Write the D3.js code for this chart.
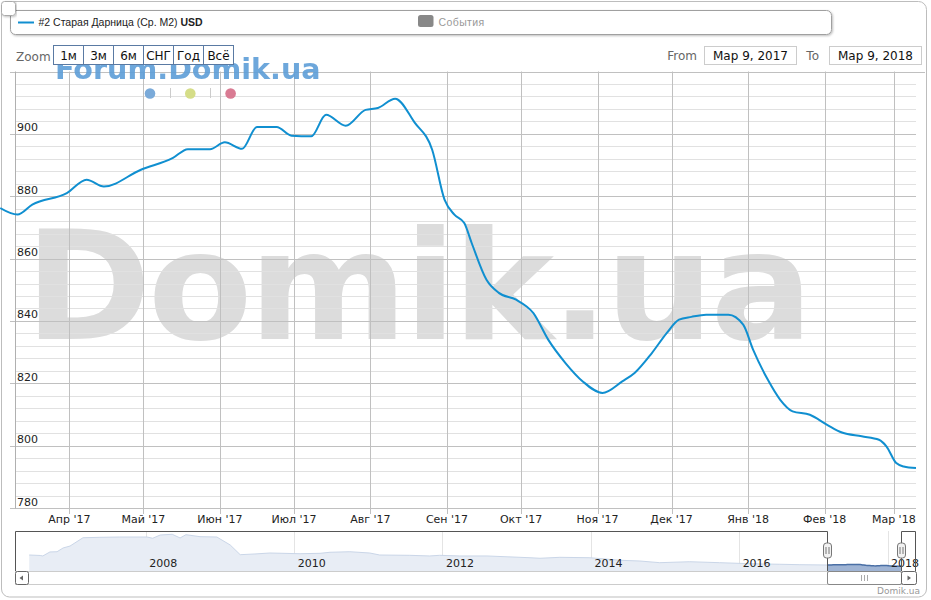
<!DOCTYPE html>
<html><head><meta charset="utf-8">
<script src="https://cdn.jsdelivr.net/npm/d3@7"></script>
<style>body{margin:0;background:#fff}svg{display:block}</style>
</head><body>
<svg id="c" width="931" height="600"></svg>
<script>
// ---------- DATA ----------
const seriesName = "#2 Старая Дарница (Ср. М2)";
const seriesUnit = "USD";
const eventsLabel = "События";
const dates = ["2017-03-04","2017-03-11","2017-03-17","2017-03-31","2017-04-08","2017-04-15","2017-04-30",
  "2017-05-13","2017-05-19","2017-05-28","2017-06-03","2017-06-10","2017-06-16","2017-06-24","2017-06-30",
  "2017-07-08","2017-07-14","2017-07-22","2017-07-30","2017-08-04","2017-08-11","2017-08-19","2017-08-26",
  "2017-08-31","2017-09-04","2017-09-08","2017-09-11","2017-09-17","2017-09-22","2017-09-29","2017-10-06",
  "2017-10-12","2017-10-19","2017-10-26","2017-11-03","2017-11-11","2017-11-16","2017-11-23","2017-11-29",
  "2017-12-04","2017-12-09","2017-12-15","2017-12-24","2017-12-30","2018-01-03","2018-01-09","2018-01-14",
  "2018-01-19","2018-01-26","2018-02-02","2018-02-08","2018-02-16","2018-02-23","2018-02-26","2018-03-02",
  "2018-03-05","2018-03-10"];
const prices = [876.2,874.1,877.3,881.0,885.3,883.1,888.5,
  892.3,895.1,895.1,897.3,895.2,902.2,902.2,899.4,
  899.2,906.1,902.6,907.7,908.3,911.3,903.5,894.9,
  878.9,874.1,871.4,865.0,853.2,849.0,846.8,842.5,
  834.0,826.5,820.6,816.9,820.6,823.3,829.7,836.1,
  840.4,841.3,842.0,842.0,838.8,830.8,821.1,814.7,
  811.0,809.9,806.7,804.2,803.0,801.9,799.8,794.4,
  793.3,792.8];
const monthTicks = ["2017-04-01","2017-05-01","2017-06-01","2017-07-01","2017-08-01","2017-09-01",
  "2017-10-01","2017-11-01","2017-12-01","2018-01-01","2018-02-01","2018-03-01"];
const monthLabels = ["Апр '17","Май '17","Июн '17","Июл '17","Авг '17","Сен '17",
  "Окт '17","Ноя '17","Дек '17","Янв '18","Фев '18","Мар '18"];
const yMajorTicks = [780,800,820,840,860,880,900,920];
const yLabelTicks = [780,800,820,840,860,880,900];
const navDates = ["2006-06-06","2006-07-30","2006-08-12","2006-09-16","2006-10-21","2006-11-20","2006-12-24",
  "2007-02-26","2007-05-20","2007-08-26","2008-01-07","2008-02-04","2008-03-12","2008-05-10","2008-06-18",
  "2008-07-17","2008-09-24","2008-12-16","2009-02-20","2009-04-10","2009-06-22","2009-09-03","2010-01-30",
  "2010-05-08","2010-06-26","2010-10-02","2011-01-08","2011-02-26","2011-07-24","2011-10-30","2011-12-18",
  "2012-03-26","2012-08-07","2013-03-07","2013-04-25","2013-08-01","2013-12-27","2014-05-24","2014-08-30",
  "2014-12-06","2015-05-03","2015-09-27","2016-02-22","2016-07-19","2016-10-26"];
const navPrices = [1500,1470,1440,1690,1705,1940,2060,
  2580,2605,2625,2625,2545,2750,2795,2565,
  2770,2645,2625,2125,1520,1565,1625,1580,
  1605,1670,1705,1625,1500,1480,1440,1480,
  1440,1440,1330,1295,1355,1330,1170,1125,
  1020,1080,1020,955,920,895];
const yearTicks = ["2008-01-01","2010-01-01","2012-01-01","2014-01-01","2016-01-01","2018-01-01"];
const yearLabels = ["2008","2010","2012","2014","2016","2018"];
const zoomButtons = ["1м","3м","6м","СНГ","Год","Всё"];
const rangeFrom = "Мар 9, 2017", rangeTo = "Мар 9, 2018";

// ---------- SETUP ----------
const P = d3.utcParse("%Y-%m-%d");
const svg = d3.select("#c");
const FONT = "'DejaVu Sans', Verdana, sans-serif";
const defs = svg.append("defs");
const f = defs.append("filter").attr("id","sh").attr("x","-5%").attr("y","-30%").attr("width","110%").attr("height","160%");
f.append("feDropShadow").attr("dx",1).attr("dy",1).attr("stdDeviation",1).attr("flood-color","#000").attr("flood-opacity",0.25);

// frame
svg.append("rect").attr("x",1.5).attr("y",1.5).attr("width",925).attr("height",595.5).attr("rx",8)
  .attr("fill","#fff").attr("stroke","#bdbdbd");

const x = d3.scaleUtc().domain([P("2017-03-10"), P("2018-03-10")]).range([15, 916]);
const y = d3.scaleLinear().domain([780, 920]).range([508, 71.5]);

// watermark
svg.append("text").attr("x",25).attr("y",339).attr("font-family",FONT).attr("font-weight","bold")
  .attr("font-size",152).attr("fill","#dcdcdc").attr("textLength",788).attr("lengthAdjust","spacing").text("Domik.ua");

// minor grid
const minor = d3.range(780, 921, 4).filter(v => v % 20 !== 0);
svg.append("g").selectAll("line").data(minor).join("line")
  .attr("x1",15).attr("x2",916).attr("y1",d=>Math.round(y(d))+0.5).attr("y2",d=>Math.round(y(d))+0.5)
  .attr("stroke","#e1e1e1");
// major grid
svg.append("g").selectAll("line").data(yMajorTicks).join("line")
  .attr("x1",10).attr("x2",d=>d===920?925:916).attr("y1",d=>Math.round(y(d))+0.5).attr("y2",d=>Math.round(y(d))+0.5)
  .attr("stroke","#c0c0c0");
// vertical month grid + ticks
svg.append("g").selectAll("line").data(monthTicks).join("line")
  .attr("x1",d=>Math.round(x(P(d)))+0.5).attr("x2",d=>Math.round(x(P(d)))+0.5)
  .attr("y1",71.5).attr("y2",514).attr("stroke","#c0c0c0");
// axes lines
svg.append("line").attr("x1",15.5).attr("x2",15.5).attr("y1",71.5).attr("y2",508.5).attr("stroke","#b0b0b0");

// y labels
svg.append("g").selectAll("text").data(yLabelTicks).join("text")
  .attr("x",17).attr("y",d=>y(d)-2.5).attr("font-family",FONT).attr("font-size",11).attr("fill","#222")
  .text(d=>d);
// x labels
svg.append("g").selectAll("text").data(monthTicks).join("text")
  .attr("x",d=>x(P(d))).attr("y",523).attr("text-anchor","middle").attr("font-family",FONT)
  .attr("font-size",11).attr("fill","#222").text((d,i)=>monthLabels[i]);

// Forum watermark + dots
svg.append("text").attr("x",55).attr("y",79).attr("font-family",FONT).attr("font-weight","bold")
  .attr("font-size",28.6).attr("fill","#5e9ed8").attr("opacity",0.9).text("Forum.Domik.ua");
const dotColors = ["#7aaad9","#d5dd88","#d97b93"];
dotColors.forEach((c,i)=>{
  svg.append("circle").attr("cx",150+i*40.3).attr("cy",93.5).attr("r",5.3).attr("fill",c);
  if(i<2) svg.append("line").attr("x1",170.5+i*40).attr("x2",170.5+i*40).attr("y1",88).attr("y2",98).attr("stroke","#ccc");
});

// main line
const line = d3.line().x((d,i)=>x(P(dates[i]))).y(d=>y(d)).curve(d3.curveMonotoneX);
svg.append("path").datum(prices).attr("d",line).attr("fill","none").attr("stroke","#108fd0")
  .attr("stroke-width",2).attr("stroke-linejoin","round");

// zoom controls
svg.append("text").attr("x",16).attr("y",61).attr("font-family",FONT).attr("font-size",12).attr("fill","#666").text("Zoom");
const bw = 30;
zoomButtons.forEach((b,i)=>{
  svg.append("rect").attr("x",53.5+i*bw).attr("y",45.5).attr("width",bw).attr("height",19)
    .attr("fill","#fff").attr("stroke","#5a7aa3");
  svg.append("text").attr("x",53.5+i*bw+bw/2).attr("y",60).attr("text-anchor","middle")
    .attr("font-family",FONT).attr("font-size",12).attr("fill","#111").text(b);
});
// From / To
svg.append("text").attr("x",697).attr("y",60).attr("text-anchor","end").attr("font-family",FONT).attr("font-size",12).attr("fill","#666").text("From");
svg.append("rect").attr("x",704.5).attr("y",46.5).attr("width",92).attr("height",18).attr("fill","#fff").attr("stroke","#ccc");
svg.append("text").attr("x",750.5).attr("y",60).attr("text-anchor","middle").attr("font-family",FONT).attr("font-size",12).attr("fill","#111").text(rangeFrom);
svg.append("text").attr("x",819).attr("y",60).attr("text-anchor","end").attr("font-family",FONT).attr("font-size",12).attr("fill","#666").text("To");
svg.append("rect").attr("x",829.5).attr("y",46.5).attr("width",92).attr("height",18).attr("fill","#fff").attr("stroke","#ccc");
svg.append("text").attr("x",875.5).attr("y",60).attr("text-anchor","middle").attr("font-family",FONT).attr("font-size",12).attr("fill","#111").text(rangeTo);

// legend
svg.append("rect").attr("x",10.5).attr("y",10.5).attr("width",821).attr("height",24).attr("rx",5)
  .attr("fill","#fff").attr("stroke","#a0a0a0").attr("filter","url(#sh)");
svg.append("line").attr("x1",18).attr("x2",34).attr("y1",22.5).attr("y2",22.5).attr("stroke","#108fd0").attr("stroke-width",2);
const lt = svg.append("text").attr("x",38.5).attr("y",26).attr("font-family","'Liberation Sans', Arial, sans-serif").attr("font-size",10.5).attr("fill","#222");
lt.append("tspan").text(seriesName+" ");
lt.append("tspan").attr("font-weight","bold").text(seriesUnit);
svg.append("rect").attr("x",418).attr("y",15).attr("width",15.5).attr("height",12).attr("rx",2.5).attr("fill","#888");
svg.append("text").attr("x",438.5).attr("y",26).attr("font-family","'Liberation Sans', Arial, sans-serif").attr("font-size",10.5).attr("fill","#999").attr("letter-spacing",0.4).text(eventsLabel);

// top-left small box
svg.append("rect").attr("x",1.5).attr("y",1.5).attr("width",14).attr("height",14).attr("rx",3)
  .attr("fill","#fff").attr("stroke","#aaa").attr("filter","url(#sh)");

// ---------- NAVIGATOR ----------
const nx = d3.scaleUtc().domain([P("2006-03-28"), P("2018-05-21")]).range([15, 916]);
const ny = d3.scaleLinear().domain([500, 3000]).range([571, 531]);
const navAll = navDates.map((d,i)=>({d:P(d), v:navPrices[i]}))
  .concat(dates.slice(1).map((d,i)=>({d:P(d), v:prices[i+1]})));
// year grid
svg.append("g").selectAll("line").data(yearTicks).join("line")
  .attr("x1",d=>Math.round(nx(P(d)))+0.5).attr("x2",d=>Math.round(nx(P(d)))+0.5)
  .attr("y1",531).attr("y2",571).attr("stroke","#e4e4e4");
const area = d3.area().x(d=>nx(d.d)).y0(571).y1(d=>ny(d.v)).curve(d3.curveLinear);
const aline = d3.line().x(d=>nx(d.d)).y(d=>ny(d.v)).curve(d3.curveLinear);
svg.append("path").datum(navAll).attr("d",area).attr("fill","#e8edf5");
svg.append("path").datum(navAll).attr("d",aline).attr("fill","none").attr("stroke","#cad6e8").attr("stroke-width",1);
const x0 = nx(x.domain()[0]), x1 = nx(x.domain()[1]);
defs.append("clipPath").attr("id","sel").append("rect").attr("x",x0).attr("y",525).attr("width",x1-x0).attr("height",50);
svg.append("path").datum(navAll).attr("d",area).attr("fill","#9fb4d4").attr("clip-path","url(#sel)");
svg.append("path").datum(navAll).attr("d",aline).attr("fill","none").attr("stroke","#4a6fa5").attr("stroke-width",1.5).attr("clip-path","url(#sel)");
// year labels
svg.append("g").selectAll("text").data(yearTicks).join("text")
  .attr("x",d=>nx(P(d))+3.5).attr("y",567).attr("font-family",FONT).attr("font-size",11).attr("fill","#222")
  .text((d,i)=>yearLabels[i]);
// outline
const X0 = Math.round(x0)+0.5, X1 = Math.round(x1)+0.5;
svg.append("path").attr("d",`M15.5,571.5V531.5H${X0}V571.5H${X1}V531.5H915.5V571.5`).attr("fill","none").attr("stroke","#555");
// scrollbar
svg.append("rect").attr("x",15.5).attr("y",571.5).attr("width",900).attr("height",13).attr("fill","#fff").attr("stroke","#ccc");
svg.append("rect").attr("x",15.5).attr("y",571.5).attr("width",13).attr("height",13).attr("rx",2).attr("fill","#fff").attr("stroke","#666");
svg.append("path").attr("d","M23,575.5L19.5,578L23,580.5Z").attr("fill","#666");
svg.append("rect").attr("x",X0).attr("y",571.5).attr("width",X1-X0).attr("height",13).attr("rx",1.5).attr("fill","#fff").attr("stroke","#888");
[-3,0,3].forEach(o=>svg.append("line").attr("x1",(X0+X1)/2+o).attr("x2",(X0+X1)/2+o).attr("y1",575).attr("y2",581).attr("stroke","#aaa"));
svg.append("rect").attr("x",X1).attr("y",571.5).attr("width",15).attr("height",13).attr("rx",2).attr("fill","#fff").attr("stroke","#666");
svg.append("path").attr("d",`M${X1+6},575.5L${X1+9.5},578L${X1+6},580.5Z`).attr("fill","#666");
// handles
[X0,X1].forEach(hx=>{
  svg.append("rect").attr("x",hx-4).attr("y",543).attr("width",8).attr("height",15).attr("rx",3).attr("fill","#f2f2f2").attr("stroke","#777");
  [-1.5,1.5].forEach(o=>svg.append("line").attr("x1",hx+o).attr("x2",hx+o).attr("y1",547).attr("y2",554).attr("stroke","#777"));
});
// credit
svg.append("text").attr("x",920).attr("y",594).attr("text-anchor","end").attr("font-family",FONT).attr("font-size",9).attr("fill","#999").text("Domik.ua");
</script>
</body></html>
